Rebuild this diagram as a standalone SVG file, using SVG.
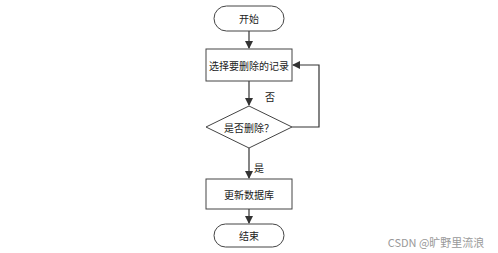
<svg xmlns="http://www.w3.org/2000/svg" width="498" height="253" viewBox="0 0 498 253">
<defs>
<marker id="ah" markerWidth="8" markerHeight="8" refX="7" refY="4" orient="auto" markerUnits="userSpaceOnUse">
<path d="M0,0 L8,4 L0,8 Z" fill="#333"/>
</marker>
<style>
.s{fill:#fff;stroke:#444;stroke-width:1}
.t{font-family:"Noto Sans CJK SC","Noto Sans",sans-serif;font-size:10px;fill:#222;text-anchor:middle;dominant-baseline:central}
.c{fill:none;stroke:#333;stroke-width:1.2;marker-end:url(#ah)}
</style>
</defs>
<rect width="498" height="253" fill="#fff"/>
<g id="connectors">
<line class="c" x1="249" y1="31" x2="249" y2="48"/>
<line class="c" x1="249" y1="81" x2="249" y2="105"/>
<polyline class="c" points="292,127 319,127 319,65 293,65"/>
<line class="c" x1="249" y1="148" x2="249" y2="178"/>
<line class="c" x1="249" y1="209" x2="249" y2="223"/>
<text class="t" x="270" y="96">否</text>
<text class="t" x="259" y="167">是</text>
</g>
<g id="start">
<rect class="s" x="214" y="6" width="70" height="25" rx="12.5"/>
<text class="t" x="249" y="18.5">开始</text>
</g>
<g id="select">
<rect class="s" x="206" y="49" width="86" height="32"/>
<text class="t" x="249" y="65">选择要删除的记录</text>
</g>
<g id="decide">
<polygon class="s" points="249,106 292,127 249,148 206,127"/>
<text class="t" x="249" y="127">是否删除？</text>
</g>
<g id="update">
<rect class="s" x="206" y="179" width="86" height="30"/>
<text class="t" x="249" y="194">更新数据库</text>
</g>
<g id="end">
<rect class="s" x="214" y="224" width="70" height="23" rx="11.5"/>
<text class="t" x="249" y="235.5">结束</text>
</g>
<text x="436" y="242" style="font-family:'Noto Sans CJK SC','Noto Sans',sans-serif;font-size:11px;fill:#999;text-anchor:middle;dominant-baseline:central">CSDN @旷野里流浪</text>
</svg>
